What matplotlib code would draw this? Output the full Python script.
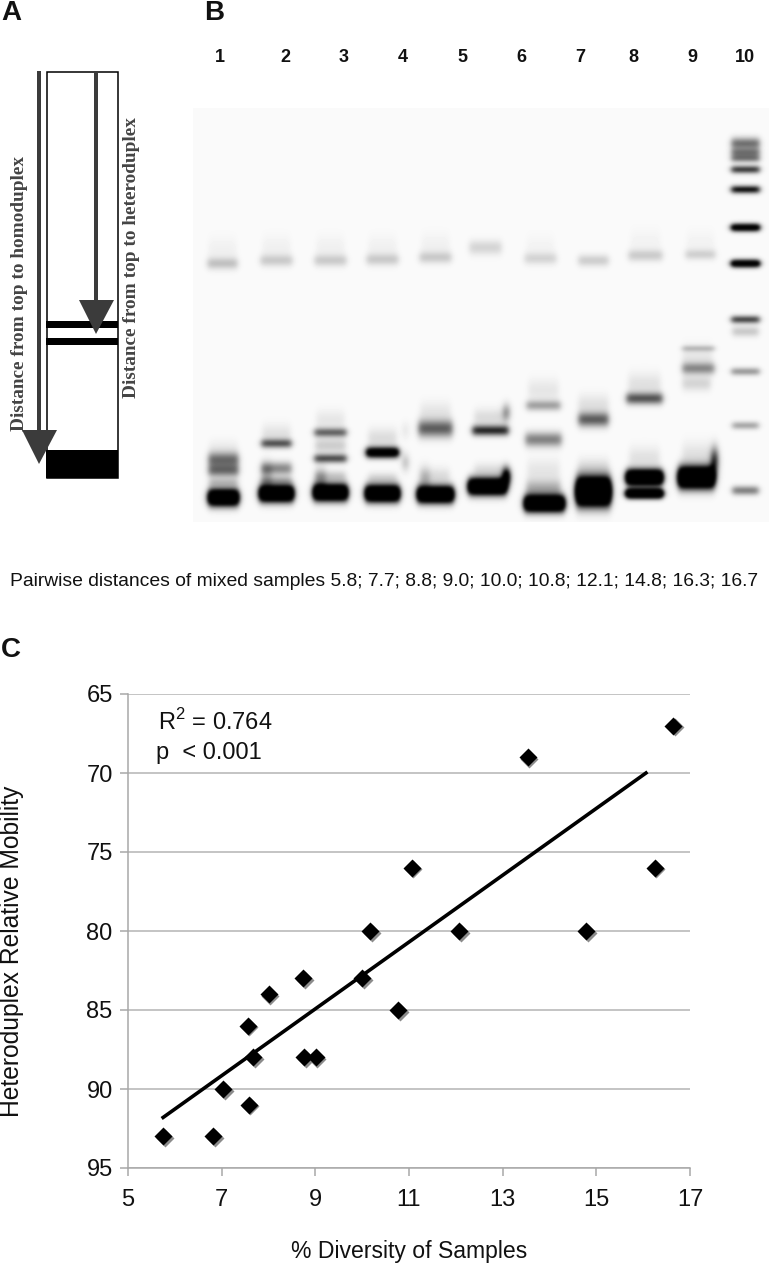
# Painel A: esquema do gel, painel B: gel, painel C: dispersao com reta
import numpy as np
import matplotlib
matplotlib.use('Agg')
import matplotlib.pyplot as plt
from matplotlib.patches import Rectangle, Polygon
from matplotlib.transforms import ScaledTranslation

plt.rcParams['font.family'] = ['Liberation Sans', 'DejaVu Sans']

# dados do grafico C
diversity = [5.75, 6.82, 7.03, 7.58, 7.56, 7.67, 8.01, 8.74, 8.76, 9.01, 10.0, 10.17, 10.77, 11.06, 12.07, 13.54, 14.78, 16.25, 16.64]
mobility = [93, 93, 90, 91, 86, 88, 84, 83, 88, 88, 83, 80, 85, 76, 80, 69, 80, 76, 67]
trend_x = [5.75, 16.06]
trend_y = [91.8, 70.0]
x_ticks = [5, 7, 9, 11, 13, 15, 17]
y_ticks = [65, 70, 75, 80, 85, 90, 95]

# rotulos das canaletas do gel
lane_labels = ['1', '2', '3', '4', '5', '6', '7', '8', '9', '10']
lane_label_x = [220, 285, 344, 403, 462, 521, 580, 633, 692, 745]

# bandas do gel: centro, meia largura, y, sigma, intensidade
bands = [
    # banda superior
    (222, 15, 263, 4, 0.22), (276, 16, 260, 4, 0.18), (330, 16, 260, 4, 0.18), (382, 16, 259, 4, 0.18),
    (435, 16, 257, 4, 0.18), (485, 16, 247, 5, 0.15), (540, 16, 258, 4, 0.14), (593, 15, 260, 4, 0.18),
    (645, 17, 255, 4, 0.18), (700, 15, 254, 3.5, 0.16),
    # halo acima da banda superior
    (222, 14, 250, 9, 0.04), (276, 14, 248, 9, 0.04), (330, 14, 248, 9, 0.04), (382, 14, 248, 9, 0.04),
    (435, 14, 246, 9, 0.04), (540, 14, 248, 9, 0.03), (645, 15, 242, 9, 0.03), (700, 14, 243, 9, 0.03),
    # canaleta 1
    (223, 15, 497, 5.5, 2.2), (223, 15, 459, 5, 0.55), (223, 15, 470, 4.5, 0.55), (223, 14, 482, 3, 0.22),
    (223, 14, 448, 6, 0.06),
    # canaleta 2
    (276, 17, 493, 5.5, 2.2), (276, 15, 443, 3, 0.65), (276, 15, 468, 4.5, 0.45), (276, 15, 480, 3, 0.25),
    (276, 14, 434, 7, 0.1), (266, 5, 475, 9, 0.2),
    # canaleta 3
    (330, 17, 492, 5.5, 2.2), (330, 16, 432, 3, 0.6), (330, 16, 458, 3, 0.7), (330, 15, 445, 5, 0.18),
    (330, 15, 476, 4, 0.2), (330, 14, 420, 7, 0.08), (320, 5, 478, 8, 0.25),
    # canaleta 4
    (382, 17, 493, 5.5, 2.2), (382, 16, 452, 3.5, 1.5), (382, 14, 478, 4, 0.15), (382, 14, 438, 7, 0.12),
    (405, 3, 430, 6, 0.08), (405, 3, 462, 6, 0.25),
    # canaleta 5
    (435, 18, 494, 5.5, 2.2), (435, 17, 428, 6, 0.62), (435, 15, 411, 7, 0.08), (435, 14, 476, 6, 0.12),
    (424, 5, 478, 8, 0.2),
    # canaleta 6
    (487, 19, 486, 5.5, 2.2), (490, 18, 430, 3.5, 0.85), (490, 16, 417, 6, 0.12), (490, 16, 470, 5, 0.12),
    (506, 3, 476, 6, 1.6), (506, 3, 412, 6, 0.45),
    # canaleta 7
    (544, 20, 503, 5.5, 2.2), (543, 17, 405, 3.5, 0.35), (543, 18, 439, 5, 0.48), (543, 17, 488, 6, 0.3),
    (543, 15, 390, 8, 0.08), (543, 16, 470, 8, 0.08),
    # canaleta 8
    (593, 17, 491, 9, 3.0), (593, 15, 419, 5, 0.62), (593, 15, 404, 7, 0.1), (593, 15, 468, 7, 0.12),
    # canaleta 9
    (644, 18, 477, 5, 2.5), (644, 18, 493, 3, 2.6), (644, 18, 398, 4, 0.65), (644, 16, 384, 8, 0.1),
    (644, 15, 458, 8, 0.1),
    # canaleta 10
    (696, 18, 477, 7, 2.5), (698, 16, 348, 2, 0.25), (698, 16, 368, 4, 0.42), (696, 14, 383, 5, 0.15),
    (697, 15, 358, 9, 0.08), (696, 14, 455, 9, 0.1), (714, 3, 460, 9, 1.0),
    # marcador de peso molecular
    (745, 14, 143, 4, 0.55), (745, 14, 152, 3, 0.5), (745, 14, 158, 2.5, 0.5), (745, 14, 169, 2.5, 0.8),
    (745, 14, 189, 2.5, 1.0), (745, 14, 227, 2.5, 1.5), (745, 14, 263, 2.5, 1.6), (745, 14, 319, 2.5, 0.75),
    (745, 13, 331, 3.5, 0.2), (745, 14, 371, 2.5, 0.4), (745, 13, 425, 2.5, 0.35), (745, 13, 490, 3, 0.5),
]

fig = plt.figure(figsize=(7.71, 12.77), dpi=100)
W, H = 771, 1277

# camada em pixels para os paineis A e B
ax0 = fig.add_axes([0, 0, 1, 1])
ax0.set_xlim(0, W)
ax0.set_ylim(H, 0)
ax0.axis('off')

# gel
gx = np.arange(193, 769)
gy = np.arange(108, 522)
xx, yy = np.meshgrid(gx, gy)
signal = np.zeros(xx.shape)
for cx, hw, cy, sig, amp in bands:
    h = 0.5 * (np.tanh((xx - cx + hw) / 3.0) - np.tanh((xx - cx - hw) / 3.0))
    v = np.exp(-((yy - cy) ** 2) / (2 * sig ** 2))
    signal += amp * h * v
gel = np.clip(0.98 - signal, 0, 1)

# desfoque leve, como na foto do gel
kernel = np.exp(-np.arange(-4, 5) ** 2 / (2 * 1.3 ** 2))
kernel /= kernel.sum()
gel = np.apply_along_axis(lambda c: np.convolve(np.pad(c, 4, mode='edge'), kernel, mode='valid'), 0, gel)
gel = np.apply_along_axis(lambda r: np.convolve(np.pad(r, 4, mode='edge'), kernel, mode='valid'), 1, gel)
ax0.imshow(gel, cmap='gray', vmin=0, vmax=1, extent=(193, 769, 522, 108), aspect='auto', zorder=1)
ax0.set_xlim(0, W)
ax0.set_ylim(H, 0)

# esquema do painel A
dark = '#3b3b3b'
ax0.add_patch(Rectangle((46.5, 71.5), 71.5, 406, fc='white', ec='black', lw=1.1, zorder=2))
ax0.add_patch(Rectangle((46, 320.5), 72, 7, fc='black', ec='none', zorder=2))
ax0.add_patch(Rectangle((46, 338), 72, 7, fc='black', ec='none', zorder=2))
ax0.add_patch(Rectangle((46, 449.5), 72, 28.5, fc='black', ec='none', zorder=2))
ax0.add_patch(Rectangle((37, 71), 4, 362, fc=dark, ec='none', zorder=3))
ax0.add_patch(Polygon([(22, 430), (57, 430), (39, 464)], fc=dark, ec='none', zorder=3))
ax0.add_patch(Rectangle((94, 71), 4, 232, fc=dark, ec='none', zorder=3))
ax0.add_patch(Polygon([(79, 300), (114, 300), (96, 334)], fc=dark, ec='none', zorder=3))

ax0.text(20, 431, 'Distance from top to homoduplex', rotation=90, ha='center', va='bottom',
         family='Liberation Serif', fontweight='bold', fontsize=13.9, color='#444444', zorder=4)
ax0.text(131, 398, 'Distance from top to heteroduplex', rotation=90, ha='center', va='bottom',
         family='Liberation Serif', fontweight='bold', fontsize=13.9, color='#444444', zorder=4)

# letras dos paineis
ax0.text(1, 13, 'A', fontsize=20, fontweight='bold', va='center', color='#111111')
ax0.text(204, 13, 'B', fontsize=20, fontweight='bold', va='center', color='#111111')
ax0.text(1, 650, 'C', fontsize=20, fontweight='bold', va='center', color='#111111')

for lx, lab in zip(lane_label_x, lane_labels):
    ax0.text(lx, 57, lab, fontsize=13, fontweight='bold', ha='center', va='center', color='#111111')

ax0.text(10, 581, 'Pairwise distances of mixed samples 5.8; 7.7; 8.8; 9.0; 10.0; 10.8; 12.1; 14.8; 16.3; 16.7',
         fontsize=13.9, va='center', color='#111111')

# painel C
left, right, top, bottom = 128, 690, 694, 1168
ax = fig.add_axes([left / W, 1 - bottom / H, (right - left) / W, (bottom - top) / H])
ax.patch.set_alpha(0)
ax.set_xlim(5, 17)
ax.set_ylim(95, 65)
ax.set_xticks(x_ticks)
ax.set_yticks(y_ticks)
ax.grid(axis='y', color='#b4b4b4', lw=1.1)
ax.set_axisbelow(True)
for s in ['top', 'right']:
    ax.spines[s].set_visible(False)
for s in ['left', 'bottom']:
    ax.spines[s].set_color('#a8a8a8')
    ax.spines[s].set_linewidth(1.1)
ax.tick_params(axis='both', color='#a8a8a8', width=1.1, length=6, labelsize=17, labelcolor='#111111')
ax.tick_params(axis='x', pad=9)
ax.tick_params(axis='y', pad=5)

shadow = ax.transData + ScaledTranslation(1.5 / 100, -1.5 / 100, fig.dpi_scale_trans)
ax.plot(diversity, mobility, 'D', ms=9, color='#8c8c8c', mec='none', transform=shadow, clip_on=False, zorder=3)
ax.plot(diversity, mobility, 'D', ms=9, color='black', mec='none', clip_on=False, zorder=4)
ax.plot(trend_x, trend_y, color='black', lw=2.6, zorder=5)

ax.set_xlabel('% Diversity of Samples', fontsize=16.6, color='#111111', va='center')
ax.xaxis.set_label_coords(0.5, -0.177)
ax.set_ylabel('Heteroduplex Relative Mobility', fontsize=17.7, color='#111111', va='center')
ax.yaxis.set_label_coords(-0.206, 0.458)

ax.text(158, 722, 'R$^{\\mathregular{2}}$ = 0.764', fontsize=17, va='center', color='#111111', zorder=6,
        transform=ax0.transData)
ax.text(156, 753, 'p  < 0.001', fontsize=17, va='center', color='#111111', zorder=6,
        transform=ax0.transData)

plt.savefig('out.png', dpi=100)
